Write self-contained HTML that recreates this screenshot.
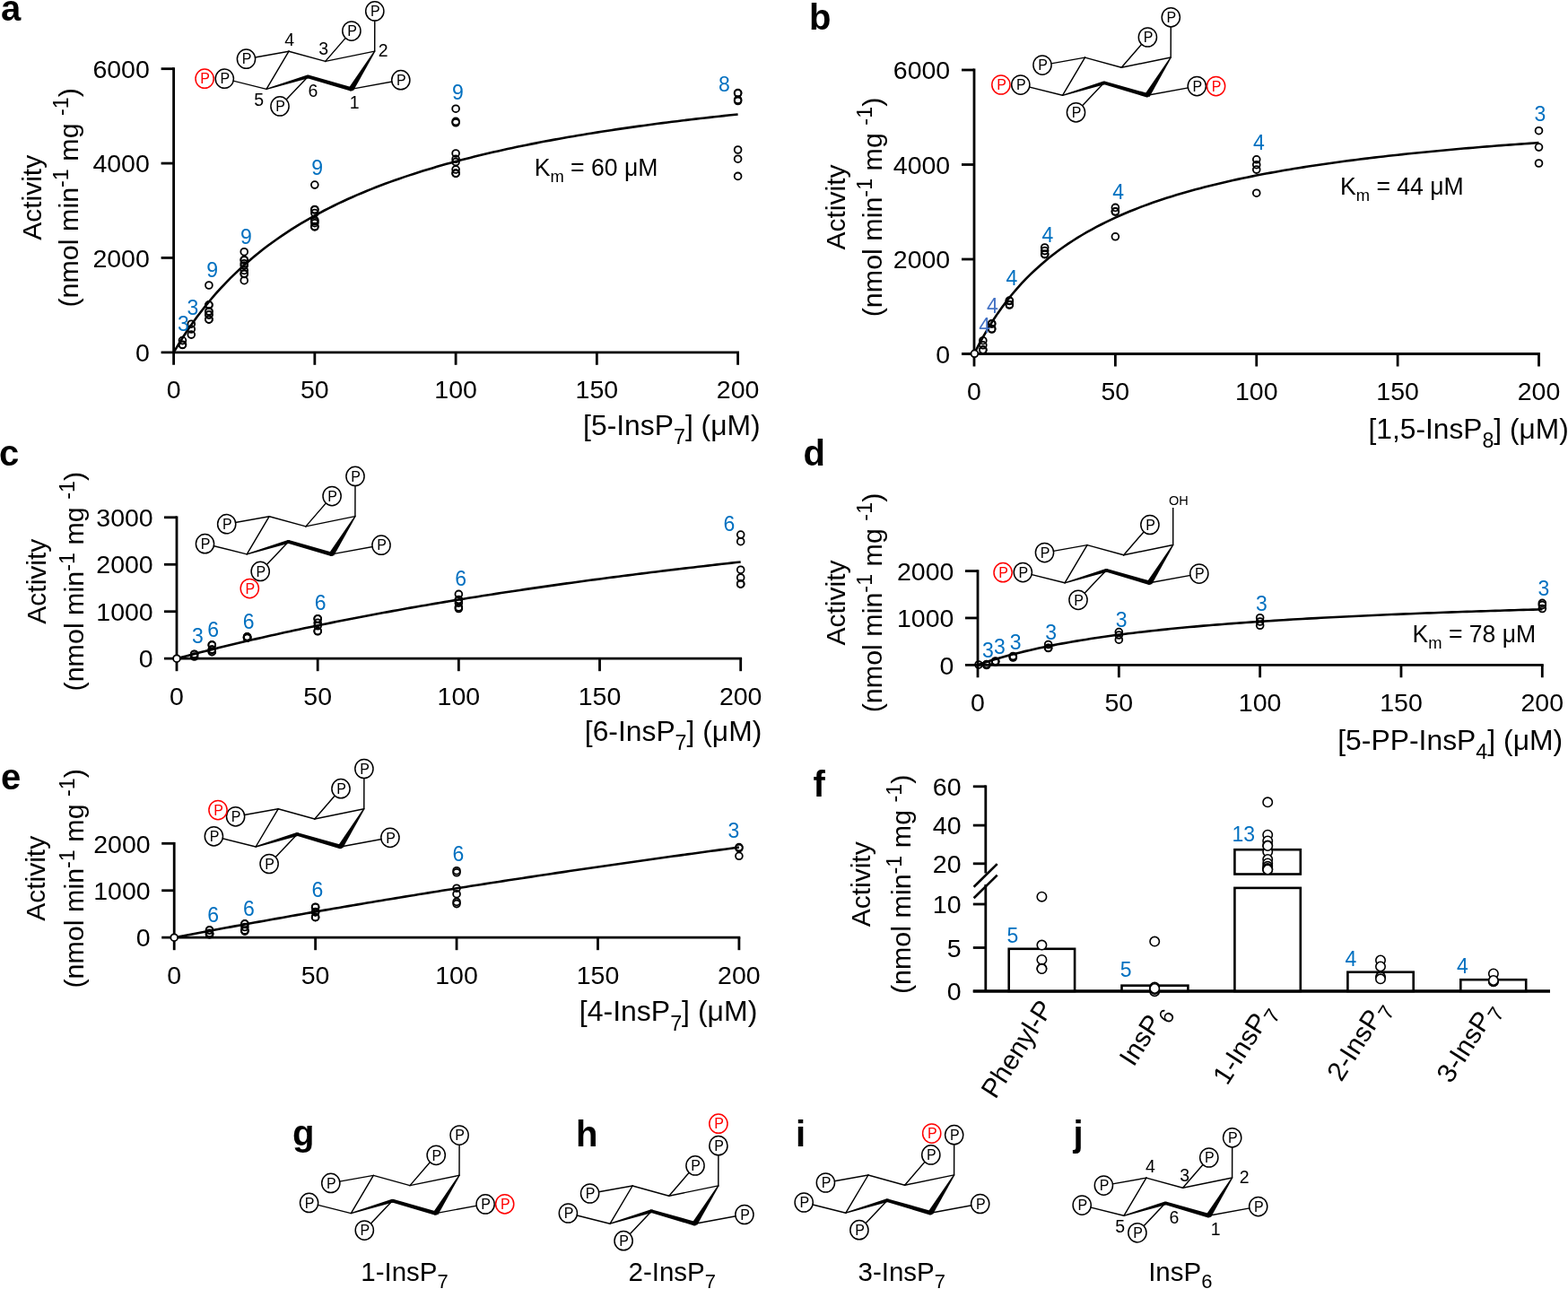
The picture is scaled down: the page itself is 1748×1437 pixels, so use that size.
<!DOCTYPE html>
<html><head><meta charset="utf-8"><style>html,body{margin:0;padding:0;background:#fff;}svg{display:block;}</style></head><body>
<svg width="1748" height="1437" viewBox="0 0 1748 1437">
<rect width="1748" height="1437" fill="#fff"/>
<g font-family="'Liberation Sans', Arial, sans-serif">
<line x1="193.6" y1="406.8" x2="193.6" y2="75.3" stroke="#000" stroke-width="2.8" stroke-linecap="butt"/>
<line x1="179.6" y1="392.8" x2="824" y2="392.8" stroke="#000" stroke-width="2.8" stroke-linecap="butt"/>
<line x1="179.6" y1="287.43" x2="193.6" y2="287.43" stroke="#000" stroke-width="2.8" stroke-linecap="butt"/>
<line x1="179.6" y1="182.07" x2="193.6" y2="182.07" stroke="#000" stroke-width="2.8" stroke-linecap="butt"/>
<line x1="179.6" y1="76.7" x2="193.6" y2="76.7" stroke="#000" stroke-width="2.8" stroke-linecap="butt"/>
<line x1="350.85" y1="392.8" x2="350.85" y2="406.8" stroke="#000" stroke-width="2.8" stroke-linecap="butt"/>
<line x1="508.1" y1="392.8" x2="508.1" y2="406.8" stroke="#000" stroke-width="2.8" stroke-linecap="butt"/>
<line x1="665.35" y1="392.8" x2="665.35" y2="406.8" stroke="#000" stroke-width="2.8" stroke-linecap="butt"/>
<line x1="822.6" y1="392.8" x2="822.6" y2="406.8" stroke="#000" stroke-width="2.8" stroke-linecap="butt"/>
<text x="166.8" y="403" font-size="28.5" text-anchor="end" fill="#000">0</text>
<text x="166.8" y="297.64" font-size="28.5" text-anchor="end" fill="#000">2000</text>
<text x="166.8" y="192.27" font-size="28.5" text-anchor="end" fill="#000">4000</text>
<text x="166.8" y="86.9" font-size="28.5" text-anchor="end" fill="#000">6000</text>
<text x="193.6" y="444.4" font-size="28.5" text-anchor="middle" fill="#000">0</text>
<text x="350.85" y="444.4" font-size="28.5" text-anchor="middle" fill="#000">50</text>
<text x="508.1" y="444.4" font-size="28.5" text-anchor="middle" fill="#000">100</text>
<text x="665.35" y="444.4" font-size="28.5" text-anchor="middle" fill="#000">150</text>
<text x="822.6" y="444.4" font-size="28.5" text-anchor="middle" fill="#000">200</text>
<text transform="translate(45.7,220.3) rotate(-90)" font-size="30" text-anchor="middle">Activity</text>
<text transform="translate(86.8,220.3) rotate(-90)" font-size="30" text-anchor="middle" textLength="244.6" lengthAdjust="spacingAndGlyphs">(nmol min<tspan font-size="23" dy="-10.5">-1</tspan><tspan dy="10.5"> mg </tspan><tspan font-size="23" dy="-10.5">-1</tspan><tspan dy="10.5">)</tspan></text>
<text x="847.7" y="484.6" font-size="31.5" text-anchor="end" textLength="197.6" lengthAdjust="spacingAndGlyphs">[5-InsP<tspan font-size="23" dy="10.5">7</tspan><tspan dy="-10.5">] (μM)</tspan></text>
<polyline points="193.6,392.8 198.84,384.07 204.08,375.76 209.32,367.84 214.57,360.29 219.81,353.08 225.05,346.19 230.29,339.59 235.53,333.27 240.77,327.22 246.02,321.41 251.26,315.83 256.5,310.46 261.74,305.31 266.98,300.34 272.23,295.56 277.47,290.95 282.71,286.51 287.95,282.21 293.19,278.07 298.43,274.07 303.68,270.2 308.92,266.45 314.16,262.83 319.4,259.32 324.64,255.91 329.88,252.62 335.12,249.42 340.37,246.32 345.61,243.3 350.85,240.38 356.09,237.54 361.33,234.77 366.57,232.09 371.82,229.47 377.06,226.93 382.3,224.46 387.54,222.05 392.78,219.7 398.02,217.41 403.27,215.18 408.51,213 413.75,210.88 418.99,208.81 424.23,206.79 429.48,204.82 434.72,202.89 439.96,201.01 445.2,199.17 450.44,197.38 455.68,195.62 460.92,193.9 466.17,192.22 471.41,190.58 476.65,188.97 481.89,187.4 487.13,185.85 492.38,184.34 497.62,182.87 502.86,181.42 508.1,180 513.34,178.61 518.58,177.24 523.83,175.91 529.07,174.6 534.31,173.31 539.55,172.05 544.79,170.81 550.03,169.6 555.27,168.4 560.52,167.23 565.76,166.08 571,164.96 576.24,163.85 581.48,162.76 586.73,161.69 591.97,160.64 597.21,159.6 602.45,158.59 607.69,157.59 612.93,156.61 618.17,155.64 623.42,154.69 628.66,153.76 633.9,152.84 639.14,151.94 644.38,151.05 649.62,150.17 654.87,149.31 660.11,148.46 665.35,147.62 670.59,146.8 675.83,145.99 681.08,145.19 686.32,144.41 691.56,143.63 696.8,142.87 702.04,142.12 707.28,141.38 712.52,140.65 717.77,139.93 723.01,139.22 728.25,138.52 733.49,137.83 738.73,137.15 743.98,136.48 749.22,135.82 754.46,135.17 759.7,134.53 764.94,133.89 770.18,133.27 775.43,132.65 780.67,132.04 785.91,131.44 791.15,130.84 796.39,130.26 801.63,129.68 806.88,129.11 812.12,128.55 817.36,127.99 822.6,127.44" fill="none" stroke="#000" stroke-width="2.6" stroke-linejoin="round"/>
<circle cx="203.43" cy="384.2" r="3.9" fill="none" stroke="#000" stroke-width="1.8"/>
<circle cx="203.43" cy="379.6" r="3.9" fill="none" stroke="#000" stroke-width="1.8"/>
<circle cx="203.43" cy="384.5" r="3.9" fill="none" stroke="#000" stroke-width="1.8"/>
<circle cx="213.26" cy="361.2" r="3.9" fill="none" stroke="#000" stroke-width="1.8"/>
<circle cx="213.26" cy="367" r="3.9" fill="none" stroke="#000" stroke-width="1.8"/>
<circle cx="213.26" cy="373.1" r="3.9" fill="none" stroke="#000" stroke-width="1.8"/>
<circle cx="232.91" cy="318" r="3.9" fill="none" stroke="#000" stroke-width="1.8"/>
<circle cx="232.91" cy="339.8" r="3.9" fill="none" stroke="#000" stroke-width="1.8"/>
<circle cx="232.91" cy="340.1" r="3.9" fill="none" stroke="#000" stroke-width="1.8"/>
<circle cx="232.91" cy="347.1" r="3.9" fill="none" stroke="#000" stroke-width="1.8"/>
<circle cx="232.91" cy="347.4" r="3.9" fill="none" stroke="#000" stroke-width="1.8"/>
<circle cx="232.91" cy="350.8" r="3.9" fill="none" stroke="#000" stroke-width="1.8"/>
<circle cx="232.91" cy="351.1" r="3.9" fill="none" stroke="#000" stroke-width="1.8"/>
<circle cx="232.91" cy="355.9" r="3.9" fill="none" stroke="#000" stroke-width="1.8"/>
<circle cx="232.91" cy="356.2" r="3.9" fill="none" stroke="#000" stroke-width="1.8"/>
<circle cx="272.23" cy="280.7" r="3.9" fill="none" stroke="#000" stroke-width="1.8"/>
<circle cx="272.23" cy="289.6" r="3.9" fill="none" stroke="#000" stroke-width="1.8"/>
<circle cx="272.23" cy="290" r="3.9" fill="none" stroke="#000" stroke-width="1.8"/>
<circle cx="272.23" cy="293.7" r="3.9" fill="none" stroke="#000" stroke-width="1.8"/>
<circle cx="272.23" cy="296.1" r="3.9" fill="none" stroke="#000" stroke-width="1.8"/>
<circle cx="272.23" cy="301.4" r="3.9" fill="none" stroke="#000" stroke-width="1.8"/>
<circle cx="272.23" cy="305" r="3.9" fill="none" stroke="#000" stroke-width="1.8"/>
<circle cx="272.23" cy="305.5" r="3.9" fill="none" stroke="#000" stroke-width="1.8"/>
<circle cx="272.23" cy="312.7" r="3.9" fill="none" stroke="#000" stroke-width="1.8"/>
<circle cx="350.85" cy="206.1" r="3.9" fill="none" stroke="#000" stroke-width="1.8"/>
<circle cx="350.85" cy="233.5" r="3.9" fill="none" stroke="#000" stroke-width="1.8"/>
<circle cx="350.85" cy="234" r="3.9" fill="none" stroke="#000" stroke-width="1.8"/>
<circle cx="350.85" cy="237.5" r="3.9" fill="none" stroke="#000" stroke-width="1.8"/>
<circle cx="350.85" cy="245.3" r="3.9" fill="none" stroke="#000" stroke-width="1.8"/>
<circle cx="350.85" cy="246.8" r="3.9" fill="none" stroke="#000" stroke-width="1.8"/>
<circle cx="350.85" cy="248.7" r="3.9" fill="none" stroke="#000" stroke-width="1.8"/>
<circle cx="350.85" cy="252.6" r="3.9" fill="none" stroke="#000" stroke-width="1.8"/>
<circle cx="350.85" cy="252.8" r="3.9" fill="none" stroke="#000" stroke-width="1.8"/>
<circle cx="508.1" cy="121.2" r="3.9" fill="none" stroke="#000" stroke-width="1.8"/>
<circle cx="508.1" cy="135.4" r="3.9" fill="none" stroke="#000" stroke-width="1.8"/>
<circle cx="508.1" cy="136.8" r="3.9" fill="none" stroke="#000" stroke-width="1.8"/>
<circle cx="508.1" cy="171" r="3.9" fill="none" stroke="#000" stroke-width="1.8"/>
<circle cx="508.1" cy="177.3" r="3.9" fill="none" stroke="#000" stroke-width="1.8"/>
<circle cx="508.1" cy="180.5" r="3.9" fill="none" stroke="#000" stroke-width="1.8"/>
<circle cx="508.1" cy="189" r="3.9" fill="none" stroke="#000" stroke-width="1.8"/>
<circle cx="508.1" cy="193.1" r="3.9" fill="none" stroke="#000" stroke-width="1.8"/>
<circle cx="508.1" cy="193.4" r="3.9" fill="none" stroke="#000" stroke-width="1.8"/>
<circle cx="822.6" cy="103.6" r="3.9" fill="none" stroke="#000" stroke-width="1.8"/>
<circle cx="822.6" cy="104" r="3.9" fill="none" stroke="#000" stroke-width="1.8"/>
<circle cx="822.6" cy="111.2" r="3.9" fill="none" stroke="#000" stroke-width="1.8"/>
<circle cx="822.6" cy="112.5" r="3.9" fill="none" stroke="#000" stroke-width="1.8"/>
<circle cx="822.6" cy="167" r="3.9" fill="none" stroke="#000" stroke-width="1.8"/>
<circle cx="822.6" cy="177.2" r="3.9" fill="none" stroke="#000" stroke-width="1.8"/>
<circle cx="822.6" cy="196.4" r="3.9" fill="none" stroke="#000" stroke-width="1.8"/>
<text x="204.5" y="368.73" font-size="23" text-anchor="middle" fill="#0070C0">3</text>
<text x="215" y="350.73" font-size="23" text-anchor="middle" fill="#0070C0">3</text>
<text x="236.6" y="309.03" font-size="23" text-anchor="middle" fill="#0070C0">9</text>
<text x="274.4" y="271.73" font-size="23" text-anchor="middle" fill="#0070C0">9</text>
<text x="353.7" y="194.53" font-size="23" text-anchor="middle" fill="#0070C0">9</text>
<text x="510.3" y="110.83" font-size="23" text-anchor="middle" fill="#0070C0">9</text>
<text x="807.5" y="102.13" font-size="23" text-anchor="middle" fill="#0070C0">8</text>
<text x="595.7" y="195.5" font-size="27.5" textLength="137.7" lengthAdjust="spacingAndGlyphs">K<tspan font-size="19" dy="7">m</tspan><tspan dy="-7"> = 60 μM</tspan></text>
<text x="1" y="22.6" font-size="40" text-anchor="start" fill="#000" font-weight="bold">a</text>
<line x1="297" y1="99.4" x2="322" y2="57.2" stroke="#000" stroke-width="1.45" stroke-linecap="round"/>
<line x1="322" y1="57.2" x2="362.7" y2="68.4" stroke="#000" stroke-width="1.45" stroke-linecap="round"/>
<line x1="362.7" y1="68.4" x2="417.7" y2="57.1" stroke="#000" stroke-width="1.45" stroke-linecap="round"/>
<line x1="322" y1="57.2" x2="274.5" y2="65.7" stroke="#000" stroke-width="1.45" stroke-linecap="round"/>
<line x1="362.7" y1="68.4" x2="391.9" y2="34.6" stroke="#000" stroke-width="1.45" stroke-linecap="round"/>
<line x1="391.5" y1="99.4" x2="446.8" y2="89.2" stroke="#000" stroke-width="1.45" stroke-linecap="round"/>
<line x1="343.3" y1="85.4" x2="312" y2="118.4" stroke="#000" stroke-width="1.45" stroke-linecap="round"/>
<line x1="297" y1="99.4" x2="250.3" y2="87.7" stroke="#000" stroke-width="1.45" stroke-linecap="round"/>
<line x1="417.7" y1="57.1" x2="417.8" y2="12.4" stroke="#000" stroke-width="1.45" stroke-linecap="round"/>
<polygon points="417.1,56.73 388.95,97.82 394.05,100.98 418.3,57.47" fill="#000"/>
<polygon points="392.14,97.19 343.83,83.58 342.77,87.22 390.86,101.61" fill="#000"/>
<polygon points="342.72,83.49 296.8,98.73 297.2,100.07 343.88,87.31" fill="#000"/>
<circle cx="343.3" cy="85.4" r="1.9" fill="#000"/>
<circle cx="391.5" cy="99.4" r="2.2" fill="#000"/>
<ellipse cx="274.5" cy="65.7" rx="10.1" ry="10.6" fill="#fff" stroke="#000" stroke-width="1.5"/>
<text x="275.1" y="71.4" font-size="16" text-anchor="middle" fill="#000">P</text>
<ellipse cx="250.3" cy="87.7" rx="10.1" ry="10.6" fill="#fff" stroke="#000" stroke-width="1.5"/>
<text x="250.9" y="93.4" font-size="16" text-anchor="middle" fill="#000">P</text>
<ellipse cx="312" cy="118.4" rx="10.1" ry="10.6" fill="#fff" stroke="#000" stroke-width="1.5"/>
<text x="312.6" y="124.1" font-size="16" text-anchor="middle" fill="#000">P</text>
<ellipse cx="391.9" cy="34.6" rx="10.1" ry="10.6" fill="#fff" stroke="#000" stroke-width="1.5"/>
<text x="392.5" y="40.3" font-size="16" text-anchor="middle" fill="#000">P</text>
<ellipse cx="446.8" cy="89.2" rx="10.1" ry="10.6" fill="#fff" stroke="#000" stroke-width="1.5"/>
<text x="447.4" y="94.9" font-size="16" text-anchor="middle" fill="#000">P</text>
<ellipse cx="417.8" cy="12.4" rx="10.1" ry="10.6" fill="#fff" stroke="#000" stroke-width="1.5"/>
<text x="418.4" y="18.1" font-size="16" text-anchor="middle" fill="#000">P</text>
<ellipse cx="228.1" cy="87.7" rx="10.1" ry="10.6" fill="#fff" stroke="#FF0000" stroke-width="1.5"/>
<text x="228.7" y="93.4" font-size="16" text-anchor="middle" fill="#FF0000">P</text>
<text x="322.6" y="50.98" font-size="19.5" text-anchor="middle" fill="#000">4</text>
<text x="360.7" y="61.28" font-size="19.5" text-anchor="middle" fill="#000">3</text>
<text x="427.2" y="63.48" font-size="19.5" text-anchor="middle" fill="#000">2</text>
<text x="395.2" y="121.48" font-size="19.5" text-anchor="middle" fill="#000">1</text>
<text x="349" y="107.98" font-size="19.5" text-anchor="middle" fill="#000">6</text>
<text x="288.8" y="117.78" font-size="19.5" text-anchor="middle" fill="#000">5</text>
<line x1="1086" y1="408.5" x2="1086" y2="76.6" stroke="#000" stroke-width="2.8" stroke-linecap="butt"/>
<line x1="1072" y1="394.5" x2="1716.9" y2="394.5" stroke="#000" stroke-width="2.8" stroke-linecap="butt"/>
<line x1="1072" y1="289" x2="1086" y2="289" stroke="#000" stroke-width="2.8" stroke-linecap="butt"/>
<line x1="1072" y1="183.5" x2="1086" y2="183.5" stroke="#000" stroke-width="2.8" stroke-linecap="butt"/>
<line x1="1072" y1="78" x2="1086" y2="78" stroke="#000" stroke-width="2.8" stroke-linecap="butt"/>
<line x1="1243.38" y1="394.5" x2="1243.38" y2="408.5" stroke="#000" stroke-width="2.8" stroke-linecap="butt"/>
<line x1="1400.75" y1="394.5" x2="1400.75" y2="408.5" stroke="#000" stroke-width="2.8" stroke-linecap="butt"/>
<line x1="1558.12" y1="394.5" x2="1558.12" y2="408.5" stroke="#000" stroke-width="2.8" stroke-linecap="butt"/>
<line x1="1715.5" y1="394.5" x2="1715.5" y2="408.5" stroke="#000" stroke-width="2.8" stroke-linecap="butt"/>
<text x="1059.2" y="404.7" font-size="28.5" text-anchor="end" fill="#000">0</text>
<text x="1059.2" y="299.2" font-size="28.5" text-anchor="end" fill="#000">2000</text>
<text x="1059.2" y="193.7" font-size="28.5" text-anchor="end" fill="#000">4000</text>
<text x="1059.2" y="88.2" font-size="28.5" text-anchor="end" fill="#000">6000</text>
<text x="1086" y="446.1" font-size="28.5" text-anchor="middle" fill="#000">0</text>
<text x="1243.38" y="446.1" font-size="28.5" text-anchor="middle" fill="#000">50</text>
<text x="1400.75" y="446.1" font-size="28.5" text-anchor="middle" fill="#000">100</text>
<text x="1558.12" y="446.1" font-size="28.5" text-anchor="middle" fill="#000">150</text>
<text x="1715.5" y="446.1" font-size="28.5" text-anchor="middle" fill="#000">200</text>
<text transform="translate(942.1,231) rotate(-90)" font-size="30" text-anchor="middle">Activity</text>
<text transform="translate(982.8,231) rotate(-90)" font-size="30" text-anchor="middle" textLength="244.6" lengthAdjust="spacingAndGlyphs">(nmol min<tspan font-size="23" dy="-10.5">-1</tspan><tspan dy="10.5"> mg </tspan><tspan font-size="23" dy="-10.5">-1</tspan><tspan dy="10.5">)</tspan></text>
<text x="1748.7" y="488.7" font-size="31.5" text-anchor="end" textLength="223.2" lengthAdjust="spacingAndGlyphs">[1,5-InsP<tspan font-size="23" dy="10.5">8</tspan><tspan dy="-10.5">] (μM)</tspan></text>
<polyline points="1086,394.5 1091.25,384.18 1096.49,374.58 1101.74,365.62 1106.98,357.24 1112.23,349.38 1117.47,342 1122.72,335.05 1127.97,328.51 1133.21,322.32 1138.46,316.47 1143.7,310.93 1148.95,305.68 1154.2,300.69 1159.44,295.94 1164.69,291.41 1169.93,287.1 1175.18,282.99 1180.42,279.06 1185.67,275.29 1190.92,271.69 1196.16,268.24 1201.41,264.93 1206.65,261.76 1211.9,258.7 1217.15,255.77 1222.39,252.95 1227.64,250.23 1232.88,247.61 1238.13,245.08 1243.38,242.64 1248.62,240.29 1253.87,238.01 1259.11,235.82 1264.36,233.69 1269.6,231.63 1274.85,229.64 1280.1,227.71 1285.34,225.84 1290.59,224.03 1295.83,222.27 1301.08,220.56 1306.33,218.91 1311.57,217.29 1316.82,215.73 1322.06,214.21 1327.31,212.73 1332.55,211.29 1337.8,209.89 1343.05,208.52 1348.29,207.19 1353.54,205.9 1358.78,204.64 1364.03,203.41 1369.28,202.21 1374.52,201.04 1379.77,199.89 1385.01,198.78 1390.26,197.69 1395.5,196.63 1400.75,195.59 1406,194.57 1411.24,193.58 1416.49,192.61 1421.73,191.66 1426.98,190.73 1432.22,189.82 1437.47,188.93 1442.72,188.06 1447.96,187.21 1453.21,186.37 1458.45,185.56 1463.7,184.75 1468.95,183.97 1474.19,183.2 1479.44,182.44 1484.68,181.7 1489.93,180.98 1495.17,180.27 1500.42,179.57 1505.67,178.88 1510.91,178.21 1516.16,177.55 1521.4,176.9 1526.65,176.27 1531.9,175.64 1537.14,175.03 1542.39,174.42 1547.63,173.83 1552.88,173.25 1558.12,172.67 1563.37,172.11 1568.62,171.56 1573.86,171.01 1579.11,170.48 1584.35,169.95 1589.6,169.43 1594.85,168.92 1600.09,168.42 1605.34,167.93 1610.58,167.44 1615.83,166.97 1621.08,166.49 1626.32,166.03 1631.57,165.57 1636.81,165.13 1642.06,164.68 1647.3,164.25 1652.55,163.82 1657.8,163.39 1663.04,162.98 1668.29,162.57 1673.53,162.16 1678.78,161.76 1684.03,161.37 1689.27,160.98 1694.52,160.6 1699.76,160.22 1705.01,159.85 1710.25,159.48 1715.5,159.12" fill="none" stroke="#000" stroke-width="2.6" stroke-linejoin="round"/>
<circle cx="1095.84" cy="379.7" r="3.9" fill="none" stroke="#000" stroke-width="1.8"/>
<circle cx="1095.84" cy="384.8" r="3.9" fill="none" stroke="#000" stroke-width="1.8"/>
<circle cx="1095.84" cy="389.9" r="3.9" fill="none" stroke="#000" stroke-width="1.8"/>
<circle cx="1095.84" cy="390.3" r="3.9" fill="none" stroke="#000" stroke-width="1.8"/>
<circle cx="1105.67" cy="360.7" r="3.9" fill="none" stroke="#000" stroke-width="1.8"/>
<circle cx="1105.67" cy="361" r="3.9" fill="none" stroke="#000" stroke-width="1.8"/>
<circle cx="1105.67" cy="366.5" r="3.9" fill="none" stroke="#000" stroke-width="1.8"/>
<circle cx="1105.67" cy="367" r="3.9" fill="none" stroke="#000" stroke-width="1.8"/>
<circle cx="1125.34" cy="335.1" r="3.9" fill="none" stroke="#000" stroke-width="1.8"/>
<circle cx="1125.34" cy="335.5" r="3.9" fill="none" stroke="#000" stroke-width="1.8"/>
<circle cx="1125.34" cy="339.5" r="3.9" fill="none" stroke="#000" stroke-width="1.8"/>
<circle cx="1125.34" cy="340" r="3.9" fill="none" stroke="#000" stroke-width="1.8"/>
<circle cx="1164.69" cy="276" r="3.9" fill="none" stroke="#000" stroke-width="1.8"/>
<circle cx="1164.69" cy="279.6" r="3.9" fill="none" stroke="#000" stroke-width="1.8"/>
<circle cx="1164.69" cy="283.3" r="3.9" fill="none" stroke="#000" stroke-width="1.8"/>
<circle cx="1164.69" cy="283.6" r="3.9" fill="none" stroke="#000" stroke-width="1.8"/>
<circle cx="1243.38" cy="231.4" r="3.9" fill="none" stroke="#000" stroke-width="1.8"/>
<circle cx="1243.38" cy="235.8" r="3.9" fill="none" stroke="#000" stroke-width="1.8"/>
<circle cx="1243.38" cy="236" r="3.9" fill="none" stroke="#000" stroke-width="1.8"/>
<circle cx="1243.38" cy="263.8" r="3.9" fill="none" stroke="#000" stroke-width="1.8"/>
<circle cx="1400.75" cy="177.8" r="3.9" fill="none" stroke="#000" stroke-width="1.8"/>
<circle cx="1400.75" cy="183.7" r="3.9" fill="none" stroke="#000" stroke-width="1.8"/>
<circle cx="1400.75" cy="189.1" r="3.9" fill="none" stroke="#000" stroke-width="1.8"/>
<circle cx="1400.75" cy="215.2" r="3.9" fill="none" stroke="#000" stroke-width="1.8"/>
<circle cx="1715.5" cy="145.7" r="3.9" fill="none" stroke="#000" stroke-width="1.8"/>
<circle cx="1715.5" cy="164.1" r="3.9" fill="none" stroke="#000" stroke-width="1.8"/>
<circle cx="1715.5" cy="182" r="3.9" fill="none" stroke="#000" stroke-width="1.8"/>
<circle cx="1086.4" cy="394.3" r="3.9" fill="#fff" stroke="#000" stroke-width="1.8"/>
<text x="1097.6" y="371.13" font-size="23" text-anchor="middle" fill="#4472C4">4</text>
<text x="1106.4" y="349.23" font-size="23" text-anchor="middle" fill="#4472C4">4</text>
<text x="1127.9" y="317.83" font-size="23" text-anchor="middle" fill="#0070C0">4</text>
<text x="1167.8" y="269.63" font-size="23" text-anchor="middle" fill="#0070C0">4</text>
<text x="1246.7" y="222.13" font-size="23" text-anchor="middle" fill="#0070C0">4</text>
<text x="1403.5" y="166.93" font-size="23" text-anchor="middle" fill="#0070C0">4</text>
<text x="1717" y="135.43" font-size="23" text-anchor="middle" fill="#0070C0">3</text>
<text x="1494" y="216.7" font-size="27.5" textLength="137.7" lengthAdjust="spacingAndGlyphs">K<tspan font-size="19" dy="7">m</tspan><tspan dy="-7"> = 44 μM</tspan></text>
<text x="902" y="33" font-size="40" text-anchor="start" fill="#000" font-weight="bold">b</text>
<line x1="1184.5" y1="106.3" x2="1209.5" y2="64.1" stroke="#000" stroke-width="1.45" stroke-linecap="round"/>
<line x1="1209.5" y1="64.1" x2="1250.2" y2="75.3" stroke="#000" stroke-width="1.45" stroke-linecap="round"/>
<line x1="1250.2" y1="75.3" x2="1305.2" y2="64" stroke="#000" stroke-width="1.45" stroke-linecap="round"/>
<line x1="1209.5" y1="64.1" x2="1162" y2="72.6" stroke="#000" stroke-width="1.45" stroke-linecap="round"/>
<line x1="1250.2" y1="75.3" x2="1279.4" y2="41.5" stroke="#000" stroke-width="1.45" stroke-linecap="round"/>
<line x1="1279" y1="106.3" x2="1334.3" y2="96.1" stroke="#000" stroke-width="1.45" stroke-linecap="round"/>
<line x1="1230.8" y1="92.3" x2="1199.5" y2="125.3" stroke="#000" stroke-width="1.45" stroke-linecap="round"/>
<line x1="1184.5" y1="106.3" x2="1137.8" y2="94.6" stroke="#000" stroke-width="1.45" stroke-linecap="round"/>
<line x1="1305.2" y1="64" x2="1305.3" y2="19.3" stroke="#000" stroke-width="1.45" stroke-linecap="round"/>
<polygon points="1304.6,63.63 1276.45,104.72 1281.55,107.88 1305.8,64.37" fill="#000"/>
<polygon points="1279.64,104.09 1231.33,90.48 1230.27,94.12 1278.36,108.51" fill="#000"/>
<polygon points="1230.22,90.39 1184.3,105.63 1184.7,106.97 1231.38,94.21" fill="#000"/>
<circle cx="1230.8" cy="92.3" r="1.9" fill="#000"/>
<circle cx="1279" cy="106.3" r="2.2" fill="#000"/>
<ellipse cx="1162" cy="72.6" rx="10.1" ry="10.6" fill="#fff" stroke="#000" stroke-width="1.5"/>
<text x="1162.6" y="78.3" font-size="16" text-anchor="middle" fill="#000">P</text>
<ellipse cx="1137.8" cy="94.6" rx="10.1" ry="10.6" fill="#fff" stroke="#000" stroke-width="1.5"/>
<text x="1138.4" y="100.3" font-size="16" text-anchor="middle" fill="#000">P</text>
<ellipse cx="1199.5" cy="125.3" rx="10.1" ry="10.6" fill="#fff" stroke="#000" stroke-width="1.5"/>
<text x="1200.1" y="131" font-size="16" text-anchor="middle" fill="#000">P</text>
<ellipse cx="1279.4" cy="41.5" rx="10.1" ry="10.6" fill="#fff" stroke="#000" stroke-width="1.5"/>
<text x="1280" y="47.2" font-size="16" text-anchor="middle" fill="#000">P</text>
<ellipse cx="1334.3" cy="96.1" rx="10.1" ry="10.6" fill="#fff" stroke="#000" stroke-width="1.5"/>
<text x="1334.9" y="101.8" font-size="16" text-anchor="middle" fill="#000">P</text>
<ellipse cx="1305.3" cy="19.3" rx="10.1" ry="10.6" fill="#fff" stroke="#000" stroke-width="1.5"/>
<text x="1305.9" y="25" font-size="16" text-anchor="middle" fill="#000">P</text>
<ellipse cx="1115.9" cy="94.5" rx="10.1" ry="10.6" fill="#fff" stroke="#FF0000" stroke-width="1.5"/>
<text x="1116.5" y="100.2" font-size="16" text-anchor="middle" fill="#FF0000">P</text>
<ellipse cx="1355.6" cy="96.1" rx="10.1" ry="10.6" fill="#fff" stroke="#FF0000" stroke-width="1.5"/>
<text x="1356.2" y="101.8" font-size="16" text-anchor="middle" fill="#FF0000">P</text>
<line x1="197" y1="748.2" x2="197" y2="575.4" stroke="#000" stroke-width="2.8" stroke-linecap="butt"/>
<line x1="183" y1="734.2" x2="827.1" y2="734.2" stroke="#000" stroke-width="2.8" stroke-linecap="butt"/>
<line x1="183" y1="681.73" x2="197" y2="681.73" stroke="#000" stroke-width="2.8" stroke-linecap="butt"/>
<line x1="183" y1="629.27" x2="197" y2="629.27" stroke="#000" stroke-width="2.8" stroke-linecap="butt"/>
<line x1="183" y1="576.8" x2="197" y2="576.8" stroke="#000" stroke-width="2.8" stroke-linecap="butt"/>
<line x1="354.18" y1="734.2" x2="354.18" y2="748.2" stroke="#000" stroke-width="2.8" stroke-linecap="butt"/>
<line x1="511.35" y1="734.2" x2="511.35" y2="748.2" stroke="#000" stroke-width="2.8" stroke-linecap="butt"/>
<line x1="668.53" y1="734.2" x2="668.53" y2="748.2" stroke="#000" stroke-width="2.8" stroke-linecap="butt"/>
<line x1="825.7" y1="734.2" x2="825.7" y2="748.2" stroke="#000" stroke-width="2.8" stroke-linecap="butt"/>
<text x="170.7" y="744.4" font-size="28.5" text-anchor="end" fill="#000">0</text>
<text x="170.7" y="691.94" font-size="28.5" text-anchor="end" fill="#000">1000</text>
<text x="170.7" y="639.47" font-size="28.5" text-anchor="end" fill="#000">2000</text>
<text x="170.7" y="587" font-size="28.5" text-anchor="end" fill="#000">3000</text>
<text x="197" y="785.8" font-size="28.5" text-anchor="middle" fill="#000">0</text>
<text x="354.18" y="785.8" font-size="28.5" text-anchor="middle" fill="#000">50</text>
<text x="511.35" y="785.8" font-size="28.5" text-anchor="middle" fill="#000">100</text>
<text x="668.53" y="785.8" font-size="28.5" text-anchor="middle" fill="#000">150</text>
<text x="825.7" y="785.8" font-size="28.5" text-anchor="middle" fill="#000">200</text>
<text transform="translate(51.3,648.2) rotate(-90)" font-size="30" text-anchor="middle">Activity</text>
<text transform="translate(93,648.2) rotate(-90)" font-size="30" text-anchor="middle" textLength="244.6" lengthAdjust="spacingAndGlyphs">(nmol min<tspan font-size="23" dy="-10.5">-1</tspan><tspan dy="10.5"> mg </tspan><tspan font-size="23" dy="-10.5">-1</tspan><tspan dy="10.5">)</tspan></text>
<text x="849.3" y="825.9" font-size="31.5" text-anchor="end" textLength="197.5" lengthAdjust="spacingAndGlyphs">[6-InsP<tspan font-size="23" dy="10.5">7</tspan><tspan dy="-10.5">] (μM)</tspan></text>
<polyline points="197,734.2 202.24,732.8 207.48,731.42 212.72,730.05 217.96,728.7 223.2,727.35 228.44,726.02 233.67,724.7 238.91,723.39 244.15,722.09 249.39,720.81 254.63,719.54 259.87,718.27 265.11,717.02 270.35,715.78 275.59,714.55 280.83,713.33 286.07,712.13 291.31,710.93 296.54,709.74 301.78,708.56 307.02,707.4 312.26,706.24 317.5,705.09 322.74,703.95 327.98,702.83 333.22,701.71 338.46,700.6 343.7,699.5 348.94,698.41 354.18,697.32 359.41,696.25 364.65,695.19 369.89,694.13 375.13,693.08 380.37,692.04 385.61,691.01 390.85,689.99 396.09,688.98 401.33,687.97 406.57,686.97 411.81,685.98 417.05,685 422.28,684.02 427.52,683.06 432.76,682.1 438,681.14 443.24,680.2 448.48,679.26 453.72,678.33 458.96,677.4 464.2,676.49 469.44,675.58 474.68,674.67 479.92,673.78 485.15,672.89 490.39,672 495.63,671.13 500.87,670.26 506.11,669.39 511.35,668.54 516.59,667.68 521.83,666.84 527.07,666 532.31,665.17 537.55,664.34 542.79,663.52 548.02,662.7 553.26,661.9 558.5,661.09 563.74,660.29 568.98,659.5 574.22,658.71 579.46,657.93 584.7,657.16 589.94,656.39 595.18,655.62 600.42,654.86 605.65,654.11 610.89,653.36 616.13,652.61 621.37,651.87 626.61,651.14 631.85,650.41 637.09,649.68 642.33,648.96 647.57,648.25 652.81,647.54 658.05,646.83 663.29,646.13 668.53,645.44 673.76,644.75 679,644.06 684.24,643.38 689.48,642.7 694.72,642.02 699.96,641.35 705.2,640.69 710.44,640.03 715.68,639.37 720.92,638.72 726.16,638.07 731.4,637.43 736.63,636.79 741.87,636.15 747.11,635.52 752.35,634.89 757.59,634.27 762.83,633.65 768.07,633.03 773.31,632.42 778.55,631.81 783.79,631.2 789.03,630.6 794.27,630 799.5,629.41 804.74,628.82 809.98,628.23 815.22,627.65 820.46,627.07 825.7,626.49" fill="none" stroke="#000" stroke-width="2.6" stroke-linejoin="round"/>
<circle cx="216.65" cy="729.2" r="3.9" fill="none" stroke="#000" stroke-width="1.8"/>
<circle cx="216.65" cy="729.5" r="3.9" fill="none" stroke="#000" stroke-width="1.8"/>
<circle cx="216.65" cy="732" r="3.9" fill="none" stroke="#000" stroke-width="1.8"/>
<circle cx="236.29" cy="718.9" r="3.9" fill="none" stroke="#000" stroke-width="1.8"/>
<circle cx="236.29" cy="719.2" r="3.9" fill="none" stroke="#000" stroke-width="1.8"/>
<circle cx="236.29" cy="724.1" r="3.9" fill="none" stroke="#000" stroke-width="1.8"/>
<circle cx="236.29" cy="724.4" r="3.9" fill="none" stroke="#000" stroke-width="1.8"/>
<circle cx="236.29" cy="726.4" r="3.9" fill="none" stroke="#000" stroke-width="1.8"/>
<circle cx="236.29" cy="726.7" r="3.9" fill="none" stroke="#000" stroke-width="1.8"/>
<circle cx="275.59" cy="709.8" r="3.9" fill="none" stroke="#000" stroke-width="1.8"/>
<circle cx="275.59" cy="710.5" r="3.9" fill="none" stroke="#000" stroke-width="1.8"/>
<circle cx="275.59" cy="711" r="3.9" fill="none" stroke="#000" stroke-width="1.8"/>
<circle cx="275.59" cy="710" r="3.9" fill="none" stroke="#000" stroke-width="1.8"/>
<circle cx="275.59" cy="710.8" r="3.9" fill="none" stroke="#000" stroke-width="1.8"/>
<circle cx="275.59" cy="711.2" r="3.9" fill="none" stroke="#000" stroke-width="1.8"/>
<circle cx="354.18" cy="689.7" r="3.9" fill="none" stroke="#000" stroke-width="1.8"/>
<circle cx="354.18" cy="690" r="3.9" fill="none" stroke="#000" stroke-width="1.8"/>
<circle cx="354.18" cy="694.3" r="3.9" fill="none" stroke="#000" stroke-width="1.8"/>
<circle cx="354.18" cy="697.8" r="3.9" fill="none" stroke="#000" stroke-width="1.8"/>
<circle cx="354.18" cy="703.5" r="3.9" fill="none" stroke="#000" stroke-width="1.8"/>
<circle cx="354.18" cy="703.8" r="3.9" fill="none" stroke="#000" stroke-width="1.8"/>
<circle cx="511.35" cy="662.4" r="3.9" fill="none" stroke="#000" stroke-width="1.8"/>
<circle cx="511.35" cy="668.5" r="3.9" fill="none" stroke="#000" stroke-width="1.8"/>
<circle cx="511.35" cy="669" r="3.9" fill="none" stroke="#000" stroke-width="1.8"/>
<circle cx="511.35" cy="672.2" r="3.9" fill="none" stroke="#000" stroke-width="1.8"/>
<circle cx="511.35" cy="677" r="3.9" fill="none" stroke="#000" stroke-width="1.8"/>
<circle cx="511.35" cy="678.5" r="3.9" fill="none" stroke="#000" stroke-width="1.8"/>
<circle cx="825.7" cy="596.1" r="3.9" fill="none" stroke="#000" stroke-width="1.8"/>
<circle cx="825.7" cy="603.7" r="3.9" fill="none" stroke="#000" stroke-width="1.8"/>
<circle cx="825.7" cy="635.2" r="3.9" fill="none" stroke="#000" stroke-width="1.8"/>
<circle cx="825.7" cy="643.9" r="3.9" fill="none" stroke="#000" stroke-width="1.8"/>
<circle cx="825.7" cy="650.9" r="3.9" fill="none" stroke="#000" stroke-width="1.8"/>
<circle cx="825.7" cy="651.2" r="3.9" fill="none" stroke="#000" stroke-width="1.8"/>
<circle cx="197" cy="734.2" r="3.9" fill="#fff" stroke="#000" stroke-width="1.8"/>
<text x="220.5" y="717.43" font-size="23" text-anchor="middle" fill="#0070C0">3</text>
<text x="237.6" y="710.03" font-size="23" text-anchor="middle" fill="#0070C0">6</text>
<text x="277.1" y="701.43" font-size="23" text-anchor="middle" fill="#0070C0">6</text>
<text x="357.2" y="680.23" font-size="23" text-anchor="middle" fill="#0070C0">6</text>
<text x="513.7" y="653.23" font-size="23" text-anchor="middle" fill="#0070C0">6</text>
<text x="813" y="592.33" font-size="23" text-anchor="middle" fill="#0070C0">6</text>
<text x="-1" y="518.5" font-size="40" text-anchor="start" fill="#000" font-weight="bold">c</text>
<line x1="275.2" y1="617.9" x2="300.2" y2="575.7" stroke="#000" stroke-width="1.45" stroke-linecap="round"/>
<line x1="300.2" y1="575.7" x2="340.9" y2="586.9" stroke="#000" stroke-width="1.45" stroke-linecap="round"/>
<line x1="340.9" y1="586.9" x2="395.9" y2="575.6" stroke="#000" stroke-width="1.45" stroke-linecap="round"/>
<line x1="300.2" y1="575.7" x2="252.7" y2="584.2" stroke="#000" stroke-width="1.45" stroke-linecap="round"/>
<line x1="340.9" y1="586.9" x2="370.1" y2="553.1" stroke="#000" stroke-width="1.45" stroke-linecap="round"/>
<line x1="369.7" y1="617.9" x2="425" y2="607.7" stroke="#000" stroke-width="1.45" stroke-linecap="round"/>
<line x1="321.5" y1="603.9" x2="290.2" y2="636.9" stroke="#000" stroke-width="1.45" stroke-linecap="round"/>
<line x1="275.2" y1="617.9" x2="228.5" y2="606.2" stroke="#000" stroke-width="1.45" stroke-linecap="round"/>
<line x1="395.9" y1="575.6" x2="396" y2="530.9" stroke="#000" stroke-width="1.45" stroke-linecap="round"/>
<polygon points="395.3,575.23 367.15,616.32 372.25,619.48 396.5,575.97" fill="#000"/>
<polygon points="370.34,615.69 322.03,602.08 320.97,605.72 369.06,620.11" fill="#000"/>
<polygon points="320.92,601.99 275,617.23 275.4,618.57 322.08,605.81" fill="#000"/>
<circle cx="321.5" cy="603.9" r="1.9" fill="#000"/>
<circle cx="369.7" cy="617.9" r="2.2" fill="#000"/>
<ellipse cx="252.7" cy="584.2" rx="10.1" ry="10.6" fill="#fff" stroke="#000" stroke-width="1.5"/>
<text x="253.3" y="589.9" font-size="16" text-anchor="middle" fill="#000">P</text>
<ellipse cx="228.5" cy="606.2" rx="10.1" ry="10.6" fill="#fff" stroke="#000" stroke-width="1.5"/>
<text x="229.1" y="611.9" font-size="16" text-anchor="middle" fill="#000">P</text>
<ellipse cx="290.2" cy="636.9" rx="10.1" ry="10.6" fill="#fff" stroke="#000" stroke-width="1.5"/>
<text x="290.8" y="642.6" font-size="16" text-anchor="middle" fill="#000">P</text>
<ellipse cx="370.1" cy="553.1" rx="10.1" ry="10.6" fill="#fff" stroke="#000" stroke-width="1.5"/>
<text x="370.7" y="558.8" font-size="16" text-anchor="middle" fill="#000">P</text>
<ellipse cx="425" cy="607.7" rx="10.1" ry="10.6" fill="#fff" stroke="#000" stroke-width="1.5"/>
<text x="425.6" y="613.4" font-size="16" text-anchor="middle" fill="#000">P</text>
<ellipse cx="396" cy="530.9" rx="10.1" ry="10.6" fill="#fff" stroke="#000" stroke-width="1.5"/>
<text x="396.6" y="536.6" font-size="16" text-anchor="middle" fill="#000">P</text>
<ellipse cx="278.3" cy="656.1" rx="10.1" ry="10.6" fill="#fff" stroke="#FF0000" stroke-width="1.5"/>
<text x="278.9" y="661.8" font-size="16" text-anchor="middle" fill="#FF0000">P</text>
<line x1="1090" y1="755.3" x2="1090" y2="635.2" stroke="#000" stroke-width="2.8" stroke-linecap="butt"/>
<line x1="1076" y1="741.3" x2="1720.7" y2="741.3" stroke="#000" stroke-width="2.8" stroke-linecap="butt"/>
<line x1="1076" y1="688.95" x2="1090" y2="688.95" stroke="#000" stroke-width="2.8" stroke-linecap="butt"/>
<line x1="1076" y1="636.6" x2="1090" y2="636.6" stroke="#000" stroke-width="2.8" stroke-linecap="butt"/>
<line x1="1247.33" y1="741.3" x2="1247.33" y2="755.3" stroke="#000" stroke-width="2.8" stroke-linecap="butt"/>
<line x1="1404.65" y1="741.3" x2="1404.65" y2="755.3" stroke="#000" stroke-width="2.8" stroke-linecap="butt"/>
<line x1="1561.97" y1="741.3" x2="1561.97" y2="755.3" stroke="#000" stroke-width="2.8" stroke-linecap="butt"/>
<line x1="1719.3" y1="741.3" x2="1719.3" y2="755.3" stroke="#000" stroke-width="2.8" stroke-linecap="butt"/>
<text x="1063.4" y="751.5" font-size="28.5" text-anchor="end" fill="#000">0</text>
<text x="1063.4" y="699.15" font-size="28.5" text-anchor="end" fill="#000">1000</text>
<text x="1063.4" y="646.8" font-size="28.5" text-anchor="end" fill="#000">2000</text>
<text x="1090" y="792.9" font-size="28.5" text-anchor="middle" fill="#000">0</text>
<text x="1247.33" y="792.9" font-size="28.5" text-anchor="middle" fill="#000">50</text>
<text x="1404.65" y="792.9" font-size="28.5" text-anchor="middle" fill="#000">100</text>
<text x="1561.97" y="792.9" font-size="28.5" text-anchor="middle" fill="#000">150</text>
<text x="1719.3" y="792.9" font-size="28.5" text-anchor="middle" fill="#000">200</text>
<text transform="translate(941.7,672) rotate(-90)" font-size="30" text-anchor="middle">Activity</text>
<text transform="translate(982.6,672) rotate(-90)" font-size="30" text-anchor="middle" textLength="244.6" lengthAdjust="spacingAndGlyphs">(nmol min<tspan font-size="23" dy="-10.5">-1</tspan><tspan dy="10.5"> mg </tspan><tspan font-size="23" dy="-10.5">-1</tspan><tspan dy="10.5">)</tspan></text>
<text x="1742.2" y="835.8" font-size="31.5" text-anchor="end" textLength="251" lengthAdjust="spacingAndGlyphs">[5-PP-InsP<tspan font-size="23" dy="10.5">4</tspan><tspan dy="-10.5">] (μM)</tspan></text>
<polyline points="1090,741.3 1095.24,739.5 1100.49,737.77 1105.73,736.11 1110.98,734.52 1116.22,732.98 1121.46,731.51 1126.71,730.09 1131.95,728.72 1137.2,727.4 1142.44,726.13 1147.69,724.9 1152.93,723.71 1158.17,722.57 1163.42,721.46 1168.66,720.39 1173.91,719.35 1179.15,718.34 1184.39,717.36 1189.64,716.42 1194.88,715.5 1200.13,714.61 1205.37,713.75 1210.62,712.91 1215.86,712.09 1221.1,711.3 1226.35,710.53 1231.59,709.78 1236.84,709.04 1242.08,708.33 1247.33,707.64 1252.57,706.97 1257.81,706.31 1263.06,705.67 1268.3,705.04 1273.55,704.43 1278.79,703.84 1284.03,703.25 1289.28,702.69 1294.52,702.13 1299.77,701.59 1305.01,701.06 1310.25,700.54 1315.5,700.04 1320.74,699.54 1325.99,699.06 1331.23,698.59 1336.48,698.12 1341.72,697.67 1346.96,697.23 1352.21,696.79 1357.45,696.37 1362.7,695.95 1367.94,695.54 1373.18,695.14 1378.43,694.75 1383.67,694.36 1388.92,693.98 1394.16,693.61 1399.41,693.25 1404.65,692.89 1409.89,692.54 1415.14,692.2 1420.38,691.86 1425.63,691.53 1430.87,691.2 1436.12,690.88 1441.36,690.57 1446.6,690.26 1451.85,689.96 1457.09,689.66 1462.34,689.37 1467.58,689.08 1472.82,688.79 1478.07,688.51 1483.31,688.24 1488.56,687.97 1493.8,687.71 1499.05,687.44 1504.29,687.19 1509.53,686.94 1514.78,686.69 1520.02,686.44 1525.27,686.2 1530.51,685.96 1535.75,685.73 1541,685.5 1546.24,685.27 1551.49,685.05 1556.73,684.83 1561.97,684.61 1567.22,684.4 1572.46,684.19 1577.71,683.98 1582.95,683.77 1588.2,683.57 1593.44,683.37 1598.68,683.18 1603.93,682.98 1609.17,682.79 1614.42,682.6 1619.66,682.42 1624.9,682.23 1630.15,682.05 1635.39,681.87 1640.64,681.7 1645.88,681.52 1651.13,681.35 1656.37,681.18 1661.61,681.02 1666.86,680.85 1672.1,680.69 1677.35,680.53 1682.59,680.37 1687.84,680.21 1693.08,680.06 1698.32,679.9 1703.57,679.75 1708.81,679.6 1714.06,679.45 1719.3,679.31" fill="none" stroke="#000" stroke-width="2.6" stroke-linejoin="round"/>
<circle cx="1091" cy="741" r="3.9" fill="none" stroke="#000" stroke-width="1.8"/>
<circle cx="1099.83" cy="741" r="3.9" fill="none" stroke="#000" stroke-width="1.8"/>
<circle cx="1099.83" cy="740.5" r="3.9" fill="none" stroke="#000" stroke-width="1.8"/>
<circle cx="1099.83" cy="741.5" r="3.9" fill="none" stroke="#000" stroke-width="1.8"/>
<circle cx="1109.67" cy="737.5" r="3.9" fill="none" stroke="#000" stroke-width="1.8"/>
<circle cx="1109.67" cy="737" r="3.9" fill="none" stroke="#000" stroke-width="1.8"/>
<circle cx="1109.67" cy="738" r="3.9" fill="none" stroke="#000" stroke-width="1.8"/>
<circle cx="1129.33" cy="732.5" r="3.9" fill="none" stroke="#000" stroke-width="1.8"/>
<circle cx="1129.33" cy="731.5" r="3.9" fill="none" stroke="#000" stroke-width="1.8"/>
<circle cx="1129.33" cy="733" r="3.9" fill="none" stroke="#000" stroke-width="1.8"/>
<circle cx="1168.66" cy="718.5" r="3.9" fill="none" stroke="#000" stroke-width="1.8"/>
<circle cx="1168.66" cy="722.2" r="3.9" fill="none" stroke="#000" stroke-width="1.8"/>
<circle cx="1168.66" cy="722.5" r="3.9" fill="none" stroke="#000" stroke-width="1.8"/>
<circle cx="1247.33" cy="704.6" r="3.9" fill="none" stroke="#000" stroke-width="1.8"/>
<circle cx="1247.33" cy="708" r="3.9" fill="none" stroke="#000" stroke-width="1.8"/>
<circle cx="1247.33" cy="713.2" r="3.9" fill="none" stroke="#000" stroke-width="1.8"/>
<circle cx="1404.65" cy="688.7" r="3.9" fill="none" stroke="#000" stroke-width="1.8"/>
<circle cx="1404.65" cy="693" r="3.9" fill="none" stroke="#000" stroke-width="1.8"/>
<circle cx="1404.65" cy="697.3" r="3.9" fill="none" stroke="#000" stroke-width="1.8"/>
<circle cx="1719.3" cy="672.4" r="3.9" fill="none" stroke="#000" stroke-width="1.8"/>
<circle cx="1719.3" cy="674.6" r="3.9" fill="none" stroke="#000" stroke-width="1.8"/>
<circle cx="1719.3" cy="678.5" r="3.9" fill="none" stroke="#000" stroke-width="1.8"/>
<text x="1101.5" y="733.43" font-size="23" text-anchor="middle" fill="#0070C0">3</text>
<text x="1114.5" y="728.83" font-size="23" text-anchor="middle" fill="#0070C0">3</text>
<text x="1132.2" y="723.73" font-size="23" text-anchor="middle" fill="#0070C0">3</text>
<text x="1171.7" y="713.43" font-size="23" text-anchor="middle" fill="#0070C0">3</text>
<text x="1250.1" y="698.53" font-size="23" text-anchor="middle" fill="#0070C0">3</text>
<text x="1406.3" y="680.63" font-size="23" text-anchor="middle" fill="#0070C0">3</text>
<text x="1720.8" y="663.83" font-size="23" text-anchor="middle" fill="#0070C0">3</text>
<text x="1574.5" y="716.1" font-size="27.5" textLength="137.7" lengthAdjust="spacingAndGlyphs">K<tspan font-size="19" dy="7">m</tspan><tspan dy="-7"> = 78 μM</tspan></text>
<text x="895.5" y="518.7" font-size="40" text-anchor="start" fill="#000" font-weight="bold">d</text>
<line x1="1187" y1="649.8" x2="1212" y2="607.6" stroke="#000" stroke-width="1.45" stroke-linecap="round"/>
<line x1="1212" y1="607.6" x2="1252.7" y2="618.8" stroke="#000" stroke-width="1.45" stroke-linecap="round"/>
<line x1="1252.7" y1="618.8" x2="1307.7" y2="607.5" stroke="#000" stroke-width="1.45" stroke-linecap="round"/>
<line x1="1212" y1="607.6" x2="1164.5" y2="616.1" stroke="#000" stroke-width="1.45" stroke-linecap="round"/>
<line x1="1252.7" y1="618.8" x2="1281.9" y2="585" stroke="#000" stroke-width="1.45" stroke-linecap="round"/>
<line x1="1281.5" y1="649.8" x2="1336.8" y2="639.6" stroke="#000" stroke-width="1.45" stroke-linecap="round"/>
<line x1="1233.3" y1="635.8" x2="1202" y2="668.8" stroke="#000" stroke-width="1.45" stroke-linecap="round"/>
<line x1="1187" y1="649.8" x2="1140.3" y2="638.1" stroke="#000" stroke-width="1.45" stroke-linecap="round"/>
<line x1="1307.7" y1="607.5" x2="1307.7" y2="566" stroke="#000" stroke-width="1.45" stroke-linecap="butt"/>
<polygon points="1307.1,607.13 1278.95,648.22 1284.05,651.38 1308.3,607.87" fill="#000"/>
<polygon points="1282.14,647.59 1233.83,633.98 1232.77,637.62 1280.86,652.01" fill="#000"/>
<polygon points="1232.72,633.89 1186.8,649.13 1187.2,650.47 1233.88,637.71" fill="#000"/>
<circle cx="1233.3" cy="635.8" r="1.9" fill="#000"/>
<circle cx="1281.5" cy="649.8" r="2.2" fill="#000"/>
<ellipse cx="1164.5" cy="616.1" rx="10.1" ry="10.6" fill="#fff" stroke="#000" stroke-width="1.5"/>
<text x="1165.1" y="621.8" font-size="16" text-anchor="middle" fill="#000">P</text>
<ellipse cx="1140.3" cy="638.1" rx="10.1" ry="10.6" fill="#fff" stroke="#000" stroke-width="1.5"/>
<text x="1140.9" y="643.8" font-size="16" text-anchor="middle" fill="#000">P</text>
<ellipse cx="1202" cy="668.8" rx="10.1" ry="10.6" fill="#fff" stroke="#000" stroke-width="1.5"/>
<text x="1202.6" y="674.5" font-size="16" text-anchor="middle" fill="#000">P</text>
<ellipse cx="1281.9" cy="585" rx="10.1" ry="10.6" fill="#fff" stroke="#000" stroke-width="1.5"/>
<text x="1282.5" y="590.7" font-size="16" text-anchor="middle" fill="#000">P</text>
<ellipse cx="1336.8" cy="639.6" rx="10.1" ry="10.6" fill="#fff" stroke="#000" stroke-width="1.5"/>
<text x="1337.4" y="645.3" font-size="16" text-anchor="middle" fill="#000">P</text>
<ellipse cx="1118.1" cy="638.2" rx="10.1" ry="10.6" fill="#fff" stroke="#FF0000" stroke-width="1.5"/>
<text x="1118.7" y="643.9" font-size="16" text-anchor="middle" fill="#FF0000">P</text>
<text x="1313.9" y="562.9" font-size="14.5" text-anchor="middle" fill="#000">OH</text>
<line x1="194.2" y1="1059.2" x2="194.2" y2="938.9" stroke="#000" stroke-width="2.8" stroke-linecap="butt"/>
<line x1="180.2" y1="1045.2" x2="825.3" y2="1045.2" stroke="#000" stroke-width="2.8" stroke-linecap="butt"/>
<line x1="180.2" y1="992.75" x2="194.2" y2="992.75" stroke="#000" stroke-width="2.8" stroke-linecap="butt"/>
<line x1="180.2" y1="940.3" x2="194.2" y2="940.3" stroke="#000" stroke-width="2.8" stroke-linecap="butt"/>
<line x1="351.62" y1="1045.2" x2="351.62" y2="1059.2" stroke="#000" stroke-width="2.8" stroke-linecap="butt"/>
<line x1="509.05" y1="1045.2" x2="509.05" y2="1059.2" stroke="#000" stroke-width="2.8" stroke-linecap="butt"/>
<line x1="666.48" y1="1045.2" x2="666.48" y2="1059.2" stroke="#000" stroke-width="2.8" stroke-linecap="butt"/>
<line x1="823.9" y1="1045.2" x2="823.9" y2="1059.2" stroke="#000" stroke-width="2.8" stroke-linecap="butt"/>
<text x="167.6" y="1055.4" font-size="28.5" text-anchor="end" fill="#000">0</text>
<text x="167.6" y="1002.95" font-size="28.5" text-anchor="end" fill="#000">1000</text>
<text x="167.6" y="950.5" font-size="28.5" text-anchor="end" fill="#000">2000</text>
<text x="194.2" y="1096.8" font-size="28.5" text-anchor="middle" fill="#000">0</text>
<text x="351.62" y="1096.8" font-size="28.5" text-anchor="middle" fill="#000">50</text>
<text x="509.05" y="1096.8" font-size="28.5" text-anchor="middle" fill="#000">100</text>
<text x="666.48" y="1096.8" font-size="28.5" text-anchor="middle" fill="#000">150</text>
<text x="823.9" y="1096.8" font-size="28.5" text-anchor="middle" fill="#000">200</text>
<text transform="translate(49.8,979.3) rotate(-90)" font-size="30" text-anchor="middle">Activity</text>
<text transform="translate(93.3,979.3) rotate(-90)" font-size="30" text-anchor="middle" textLength="244.6" lengthAdjust="spacingAndGlyphs">(nmol min<tspan font-size="23" dy="-10.5">-1</tspan><tspan dy="10.5"> mg </tspan><tspan font-size="23" dy="-10.5">-1</tspan><tspan dy="10.5">)</tspan></text>
<text x="844.3" y="1138.2" font-size="31.5" text-anchor="end" textLength="198.5" lengthAdjust="spacingAndGlyphs">[4-InsP<tspan font-size="23" dy="10.5">7</tspan><tspan dy="-10.5">] (μM)</tspan></text>
<polyline points="194.2,1045.2 199.45,1044.2 204.69,1043.19 209.94,1042.2 215.19,1041.2 220.44,1040.21 225.69,1039.22 230.93,1038.24 236.18,1037.26 241.43,1036.28 246.68,1035.31 251.92,1034.33 257.17,1033.36 262.42,1032.4 267.66,1031.44 272.91,1030.48 278.16,1029.52 283.41,1028.57 288.65,1027.62 293.9,1026.67 299.15,1025.73 304.4,1024.79 309.64,1023.85 314.89,1022.92 320.14,1021.98 325.39,1021.06 330.63,1020.13 335.88,1019.21 341.13,1018.29 346.38,1017.37 351.62,1016.46 356.87,1015.55 362.12,1014.64 367.37,1013.73 372.62,1012.83 377.86,1011.93 383.11,1011.03 388.36,1010.14 393.61,1009.25 398.85,1008.36 404.1,1007.48 409.35,1006.59 414.6,1005.71 419.84,1004.84 425.09,1003.96 430.34,1003.09 435.59,1002.22 440.83,1001.35 446.08,1000.49 451.33,999.63 456.57,998.77 461.82,997.91 467.07,997.06 472.32,996.21 477.56,995.36 482.81,994.52 488.06,993.67 493.31,992.83 498.56,992 503.8,991.16 509.05,990.33 514.3,989.5 519.55,988.67 524.79,987.84 530.04,987.02 535.29,986.2 540.54,985.38 545.78,984.57 551.03,983.76 556.28,982.95 561.53,982.14 566.77,981.33 572.02,980.53 577.27,979.73 582.51,978.93 587.76,978.13 593.01,977.34 598.26,976.55 603.51,975.76 608.75,974.97 614,974.19 619.25,973.41 624.5,972.63 629.74,971.85 634.99,971.07 640.24,970.3 645.49,969.53 650.73,968.76 655.98,968 661.23,967.23 666.48,966.47 671.72,965.71 676.97,964.95 682.22,964.2 687.47,963.45 692.71,962.69 697.96,961.95 703.21,961.2 708.46,960.45 713.7,959.71 718.95,958.97 724.2,958.23 729.44,957.5 734.69,956.76 739.94,956.03 745.19,955.3 750.43,954.58 755.68,953.85 760.93,953.13 766.18,952.4 771.43,951.69 776.67,950.97 781.92,950.25 787.17,949.54 792.41,948.83 797.66,948.12 802.91,947.41 808.16,946.71 813.4,946 818.65,945.3 823.9,944.6" fill="none" stroke="#000" stroke-width="2.6" stroke-linejoin="round"/>
<circle cx="233.56" cy="1036.8" r="3.9" fill="none" stroke="#000" stroke-width="1.8"/>
<circle cx="233.56" cy="1037.1" r="3.9" fill="none" stroke="#000" stroke-width="1.8"/>
<circle cx="233.56" cy="1040.3" r="3.9" fill="none" stroke="#000" stroke-width="1.8"/>
<circle cx="233.56" cy="1040.8" r="3.9" fill="none" stroke="#000" stroke-width="1.8"/>
<circle cx="233.56" cy="1041.5" r="3.9" fill="none" stroke="#000" stroke-width="1.8"/>
<circle cx="233.56" cy="1041.8" r="3.9" fill="none" stroke="#000" stroke-width="1.8"/>
<circle cx="272.91" cy="1029.8" r="3.9" fill="none" stroke="#000" stroke-width="1.8"/>
<circle cx="272.91" cy="1030.1" r="3.9" fill="none" stroke="#000" stroke-width="1.8"/>
<circle cx="272.91" cy="1033.5" r="3.9" fill="none" stroke="#000" stroke-width="1.8"/>
<circle cx="272.91" cy="1037.3" r="3.9" fill="none" stroke="#000" stroke-width="1.8"/>
<circle cx="272.91" cy="1037.6" r="3.9" fill="none" stroke="#000" stroke-width="1.8"/>
<circle cx="272.91" cy="1038" r="3.9" fill="none" stroke="#000" stroke-width="1.8"/>
<circle cx="351.62" cy="1011.2" r="3.9" fill="none" stroke="#000" stroke-width="1.8"/>
<circle cx="351.62" cy="1011.5" r="3.9" fill="none" stroke="#000" stroke-width="1.8"/>
<circle cx="351.62" cy="1016.6" r="3.9" fill="none" stroke="#000" stroke-width="1.8"/>
<circle cx="351.62" cy="1022.4" r="3.9" fill="none" stroke="#000" stroke-width="1.8"/>
<circle cx="351.62" cy="1022.7" r="3.9" fill="none" stroke="#000" stroke-width="1.8"/>
<circle cx="351.62" cy="1016.9" r="3.9" fill="none" stroke="#000" stroke-width="1.8"/>
<circle cx="509.05" cy="970.7" r="3.9" fill="none" stroke="#000" stroke-width="1.8"/>
<circle cx="509.05" cy="972.8" r="3.9" fill="none" stroke="#000" stroke-width="1.8"/>
<circle cx="509.05" cy="990.2" r="3.9" fill="none" stroke="#000" stroke-width="1.8"/>
<circle cx="509.05" cy="996.7" r="3.9" fill="none" stroke="#000" stroke-width="1.8"/>
<circle cx="509.05" cy="1005.4" r="3.9" fill="none" stroke="#000" stroke-width="1.8"/>
<circle cx="509.05" cy="1007.6" r="3.9" fill="none" stroke="#000" stroke-width="1.8"/>
<circle cx="823.9" cy="944.6" r="3.9" fill="none" stroke="#000" stroke-width="1.8"/>
<circle cx="823.9" cy="954.3" r="3.9" fill="none" stroke="#000" stroke-width="1.8"/>
<circle cx="823.9" cy="945.5" r="3.9" fill="none" stroke="#000" stroke-width="1.8"/>
<circle cx="194.2" cy="1045.2" r="3.9" fill="#fff" stroke="#000" stroke-width="1.8"/>
<text x="237.6" y="1028.33" font-size="23" text-anchor="middle" fill="#0070C0">6</text>
<text x="277.4" y="1020.83" font-size="23" text-anchor="middle" fill="#0070C0">6</text>
<text x="353.8" y="1000.03" font-size="23" text-anchor="middle" fill="#0070C0">6</text>
<text x="510.9" y="960.43" font-size="23" text-anchor="middle" fill="#0070C0">6</text>
<text x="817.8" y="933.93" font-size="23" text-anchor="middle" fill="#0070C0">3</text>
<text x="1" y="879.5" font-size="40" text-anchor="start" fill="#000" font-weight="bold">e</text>
<line x1="285.1" y1="944" x2="310.1" y2="901.8" stroke="#000" stroke-width="1.45" stroke-linecap="round"/>
<line x1="310.1" y1="901.8" x2="350.8" y2="913" stroke="#000" stroke-width="1.45" stroke-linecap="round"/>
<line x1="350.8" y1="913" x2="405.8" y2="901.7" stroke="#000" stroke-width="1.45" stroke-linecap="round"/>
<line x1="310.1" y1="901.8" x2="262.6" y2="910.3" stroke="#000" stroke-width="1.45" stroke-linecap="round"/>
<line x1="350.8" y1="913" x2="380" y2="879.2" stroke="#000" stroke-width="1.45" stroke-linecap="round"/>
<line x1="379.6" y1="944" x2="434.9" y2="933.8" stroke="#000" stroke-width="1.45" stroke-linecap="round"/>
<line x1="331.4" y1="930" x2="300.1" y2="963" stroke="#000" stroke-width="1.45" stroke-linecap="round"/>
<line x1="285.1" y1="944" x2="238.4" y2="932.3" stroke="#000" stroke-width="1.45" stroke-linecap="round"/>
<line x1="405.8" y1="901.7" x2="405.9" y2="857" stroke="#000" stroke-width="1.45" stroke-linecap="round"/>
<polygon points="405.2,901.33 377.05,942.42 382.15,945.58 406.4,902.07" fill="#000"/>
<polygon points="380.24,941.79 331.93,928.18 330.87,931.82 378.96,946.21" fill="#000"/>
<polygon points="330.82,928.09 284.9,943.33 285.3,944.67 331.98,931.91" fill="#000"/>
<circle cx="331.4" cy="930" r="1.9" fill="#000"/>
<circle cx="379.6" cy="944" r="2.2" fill="#000"/>
<ellipse cx="262.6" cy="910.3" rx="10.1" ry="10.6" fill="#fff" stroke="#000" stroke-width="1.5"/>
<text x="263.2" y="916" font-size="16" text-anchor="middle" fill="#000">P</text>
<ellipse cx="238.4" cy="932.3" rx="10.1" ry="10.6" fill="#fff" stroke="#000" stroke-width="1.5"/>
<text x="239" y="938" font-size="16" text-anchor="middle" fill="#000">P</text>
<ellipse cx="300.1" cy="963" rx="10.1" ry="10.6" fill="#fff" stroke="#000" stroke-width="1.5"/>
<text x="300.7" y="968.7" font-size="16" text-anchor="middle" fill="#000">P</text>
<ellipse cx="380" cy="879.2" rx="10.1" ry="10.6" fill="#fff" stroke="#000" stroke-width="1.5"/>
<text x="380.6" y="884.9" font-size="16" text-anchor="middle" fill="#000">P</text>
<ellipse cx="434.9" cy="933.8" rx="10.1" ry="10.6" fill="#fff" stroke="#000" stroke-width="1.5"/>
<text x="435.5" y="939.5" font-size="16" text-anchor="middle" fill="#000">P</text>
<ellipse cx="405.9" cy="857" rx="10.1" ry="10.6" fill="#fff" stroke="#000" stroke-width="1.5"/>
<text x="406.5" y="862.7" font-size="16" text-anchor="middle" fill="#000">P</text>
<ellipse cx="243" cy="903.1" rx="10.1" ry="10.6" fill="#fff" stroke="#FF0000" stroke-width="1.5"/>
<text x="243.6" y="908.8" font-size="16" text-anchor="middle" fill="#FF0000">P</text>
<line x1="1098.8" y1="1105" x2="1098.8" y2="986" stroke="#000" stroke-width="2.8" stroke-linecap="butt"/>
<line x1="1098.8" y1="973.5" x2="1098.8" y2="875.4" stroke="#000" stroke-width="2.8" stroke-linecap="butt"/>
<line x1="1084.8" y1="1105" x2="1728" y2="1105" stroke="#000" stroke-width="2.8" stroke-linecap="butt"/>
<line x1="1084.8" y1="1056.5" x2="1098.8" y2="1056.5" stroke="#000" stroke-width="2.8" stroke-linecap="butt"/>
<line x1="1084.8" y1="1008" x2="1098.8" y2="1008" stroke="#000" stroke-width="2.8" stroke-linecap="butt"/>
<line x1="1084.8" y1="962.8" x2="1098.8" y2="962.8" stroke="#000" stroke-width="2.8" stroke-linecap="butt"/>
<line x1="1084.8" y1="920.1" x2="1098.8" y2="920.1" stroke="#000" stroke-width="2.8" stroke-linecap="butt"/>
<line x1="1084.8" y1="876.8" x2="1098.8" y2="876.8" stroke="#000" stroke-width="2.8" stroke-linecap="butt"/>
<text x="1071.5" y="1115.2" font-size="28.5" text-anchor="end" fill="#000">0</text>
<text x="1071.5" y="1066.7" font-size="28.5" text-anchor="end" fill="#000">5</text>
<text x="1071.5" y="1018.2" font-size="28.5" text-anchor="end" fill="#000">10</text>
<text x="1071.5" y="973" font-size="28.5" text-anchor="end" fill="#000">20</text>
<text x="1071.5" y="930.3" font-size="28.5" text-anchor="end" fill="#000">40</text>
<text x="1071.5" y="887" font-size="28.5" text-anchor="end" fill="#000">60</text>
<line x1="1085.6" y1="988.8" x2="1111.7" y2="963.1" stroke="#000" stroke-width="2.6" stroke-linecap="butt"/>
<line x1="1085.6" y1="1001.3" x2="1111.7" y2="975.6" stroke="#000" stroke-width="2.6" stroke-linecap="butt"/>
<text transform="translate(969.8,985.8) rotate(-90)" font-size="30" text-anchor="middle">Activity</text>
<text transform="translate(1015,985.8) rotate(-90)" font-size="30" text-anchor="middle" textLength="244.6" lengthAdjust="spacingAndGlyphs">(nmol min<tspan font-size="23" dy="-10.5">-1</tspan><tspan dy="10.5"> mg </tspan><tspan font-size="23" dy="-10.5">-1</tspan><tspan dy="10.5">)</tspan></text>
<rect x="1124.7" y="1057.8" width="73.4" height="47.2" fill="#fff" stroke="#000" stroke-width="2.6"/>
<rect x="1250.5" y="1098.7" width="73.9" height="6.3" fill="#fff" stroke="#000" stroke-width="2.6"/>
<rect x="1376.4" y="989.9" width="73.4" height="115.1" fill="#fff" stroke="#000" stroke-width="2.6"/>
<rect x="1376.4" y="947.2" width="73.4" height="27.3" fill="#fff" stroke="#000" stroke-width="2.6"/>
<rect x="1502.4" y="1083.7" width="73.3" height="21.3" fill="#fff" stroke="#000" stroke-width="2.6"/>
<rect x="1628.3" y="1092.2" width="72.9" height="12.8" fill="#fff" stroke="#000" stroke-width="2.6"/>
<line x1="1084.8" y1="1105" x2="1728" y2="1105" stroke="#000" stroke-width="2.8" stroke-linecap="butt"/>
<circle cx="1161.4" cy="999.7" r="5.2" fill="#fff" stroke="#000" stroke-width="1.6"/>
<circle cx="1161.4" cy="1053.6" r="5.2" fill="#fff" stroke="#000" stroke-width="1.6"/>
<circle cx="1161.4" cy="1069.9" r="5.2" fill="#fff" stroke="#000" stroke-width="1.6"/>
<circle cx="1161.4" cy="1079.8" r="5.2" fill="#fff" stroke="#000" stroke-width="1.6"/>
<circle cx="1161.4" cy="1080.1" r="5.2" fill="#fff" stroke="#000" stroke-width="1.6"/>
<circle cx="1287.2" cy="1049.6" r="5.2" fill="#fff" stroke="#000" stroke-width="1.6"/>
<circle cx="1287.2" cy="1100.6" r="5.2" fill="#fff" stroke="#000" stroke-width="1.6"/>
<circle cx="1287.2" cy="1105.2" r="5.2" fill="#fff" stroke="#000" stroke-width="1.6"/>
<circle cx="1287.2" cy="1103" r="5.2" fill="#fff" stroke="#000" stroke-width="1.6"/>
<circle cx="1287.2" cy="1102" r="5.2" fill="#fff" stroke="#000" stroke-width="1.6"/>
<circle cx="1413.2" cy="894.3" r="5.2" fill="#fff" stroke="#000" stroke-width="1.6"/>
<circle cx="1413.2" cy="930.7" r="5.2" fill="#fff" stroke="#000" stroke-width="1.6"/>
<circle cx="1413.2" cy="937.4" r="5.2" fill="#fff" stroke="#000" stroke-width="1.6"/>
<circle cx="1413.2" cy="942.4" r="5.2" fill="#fff" stroke="#000" stroke-width="1.6"/>
<circle cx="1413.2" cy="949.6" r="5.2" fill="#fff" stroke="#000" stroke-width="1.6"/>
<circle cx="1413.2" cy="958" r="5.2" fill="#fff" stroke="#000" stroke-width="1.6"/>
<circle cx="1413.2" cy="962.4" r="5.2" fill="#fff" stroke="#000" stroke-width="1.6"/>
<circle cx="1413.2" cy="965.8" r="5.2" fill="#fff" stroke="#000" stroke-width="1.6"/>
<circle cx="1413.2" cy="968" r="5.2" fill="#fff" stroke="#000" stroke-width="1.6"/>
<circle cx="1413.2" cy="969.1" r="5.2" fill="#fff" stroke="#000" stroke-width="1.6"/>
<circle cx="1413.2" cy="969.3" r="5.2" fill="#fff" stroke="#000" stroke-width="1.6"/>
<circle cx="1413.2" cy="969.5" r="5.2" fill="#fff" stroke="#000" stroke-width="1.6"/>
<circle cx="1413.2" cy="943" r="5.2" fill="#fff" stroke="#000" stroke-width="1.6"/>
<circle cx="1539" cy="1070.5" r="5.2" fill="#fff" stroke="#000" stroke-width="1.6"/>
<circle cx="1539" cy="1077.5" r="5.2" fill="#fff" stroke="#000" stroke-width="1.6"/>
<circle cx="1539" cy="1089.1" r="5.2" fill="#fff" stroke="#000" stroke-width="1.6"/>
<circle cx="1539" cy="1091.3" r="5.2" fill="#fff" stroke="#000" stroke-width="1.6"/>
<circle cx="1664.9" cy="1085.4" r="5.2" fill="#fff" stroke="#000" stroke-width="1.6"/>
<circle cx="1664.9" cy="1094.3" r="5.2" fill="#fff" stroke="#000" stroke-width="1.6"/>
<circle cx="1664.9" cy="1094" r="5.2" fill="#fff" stroke="#000" stroke-width="1.6"/>
<circle cx="1664.9" cy="1093" r="5.2" fill="#fff" stroke="#000" stroke-width="1.6"/>
<text x="1128.9" y="1051.33" font-size="23" text-anchor="middle" fill="#0070C0">5</text>
<text x="1255.1" y="1089.33" font-size="23" text-anchor="middle" fill="#0070C0">5</text>
<text x="1386.2" y="938.13" font-size="23" text-anchor="middle" fill="#0070C0">13</text>
<text x="1506" y="1076.53" font-size="23" text-anchor="middle" fill="#0070C0">4</text>
<text x="1630.5" y="1084.63" font-size="23" text-anchor="middle" fill="#0070C0">4</text>
<text x="906.5" y="888" font-size="40" text-anchor="start" fill="#000" font-weight="bold">f</text>
<text transform="translate(1175.1,1123.6) rotate(-57.5)" font-size="30" text-anchor="end">Phenyl-P</text>
<text transform="translate(1303.6,1127.5) rotate(-57.5)" font-size="30" text-anchor="end">InsP<tspan font-size="23" dy="8" dx="1.5">6</tspan></text>
<text transform="translate(1421.4,1127) rotate(-57.5)" font-size="30" text-anchor="end">1-InsP<tspan font-size="23" dy="8" dx="0">7</tspan></text>
<text transform="translate(1548.6,1123.1) rotate(-57.5)" font-size="30" text-anchor="end">2-InsP<tspan font-size="23" dy="8" dx="0">7</tspan></text>
<text transform="translate(1671,1125) rotate(-57.5)" font-size="30" text-anchor="end">3-InsP<tspan font-size="23" dy="8" dx="0">7</tspan></text>
<text x="326" y="1277" font-size="40" text-anchor="start" fill="#000" font-weight="bold">g</text>
<line x1="391.3" y1="1352.6" x2="416.3" y2="1310.4" stroke="#000" stroke-width="1.45" stroke-linecap="round"/>
<line x1="416.3" y1="1310.4" x2="457" y2="1321.6" stroke="#000" stroke-width="1.45" stroke-linecap="round"/>
<line x1="457" y1="1321.6" x2="512" y2="1310.3" stroke="#000" stroke-width="1.45" stroke-linecap="round"/>
<line x1="416.3" y1="1310.4" x2="368.8" y2="1318.9" stroke="#000" stroke-width="1.45" stroke-linecap="round"/>
<line x1="457" y1="1321.6" x2="486.2" y2="1287.8" stroke="#000" stroke-width="1.45" stroke-linecap="round"/>
<line x1="485.8" y1="1352.6" x2="541.1" y2="1342.4" stroke="#000" stroke-width="1.45" stroke-linecap="round"/>
<line x1="437.6" y1="1338.6" x2="406.3" y2="1371.6" stroke="#000" stroke-width="1.45" stroke-linecap="round"/>
<line x1="391.3" y1="1352.6" x2="344.6" y2="1340.9" stroke="#000" stroke-width="1.45" stroke-linecap="round"/>
<line x1="512" y1="1310.3" x2="512.1" y2="1265.6" stroke="#000" stroke-width="1.45" stroke-linecap="round"/>
<polygon points="511.4,1309.93 483.25,1351.02 488.35,1354.18 512.6,1310.67" fill="#000"/>
<polygon points="486.44,1350.39 438.13,1336.78 437.07,1340.42 485.16,1354.81" fill="#000"/>
<polygon points="437.02,1336.69 391.1,1351.93 391.5,1353.27 438.18,1340.51" fill="#000"/>
<circle cx="437.6" cy="1338.6" r="1.9" fill="#000"/>
<circle cx="485.8" cy="1352.6" r="2.2" fill="#000"/>
<ellipse cx="368.8" cy="1318.9" rx="10.1" ry="10.6" fill="#fff" stroke="#000" stroke-width="1.5"/>
<text x="369.4" y="1324.6" font-size="16" text-anchor="middle" fill="#000">P</text>
<ellipse cx="344.6" cy="1340.9" rx="10.1" ry="10.6" fill="#fff" stroke="#000" stroke-width="1.5"/>
<text x="345.2" y="1346.6" font-size="16" text-anchor="middle" fill="#000">P</text>
<ellipse cx="406.3" cy="1371.6" rx="10.1" ry="10.6" fill="#fff" stroke="#000" stroke-width="1.5"/>
<text x="406.9" y="1377.3" font-size="16" text-anchor="middle" fill="#000">P</text>
<ellipse cx="486.2" cy="1287.8" rx="10.1" ry="10.6" fill="#fff" stroke="#000" stroke-width="1.5"/>
<text x="486.8" y="1293.5" font-size="16" text-anchor="middle" fill="#000">P</text>
<ellipse cx="541.1" cy="1342.4" rx="10.1" ry="10.6" fill="#fff" stroke="#000" stroke-width="1.5"/>
<text x="541.7" y="1348.1" font-size="16" text-anchor="middle" fill="#000">P</text>
<ellipse cx="512.1" cy="1265.6" rx="10.1" ry="10.6" fill="#fff" stroke="#000" stroke-width="1.5"/>
<text x="512.7" y="1271.3" font-size="16" text-anchor="middle" fill="#000">P</text>
<ellipse cx="562.7" cy="1342.3" rx="10.1" ry="10.6" fill="#fff" stroke="#FF0000" stroke-width="1.5"/>
<text x="563.3" y="1348" font-size="16" text-anchor="middle" fill="#FF0000">P</text>
<text x="642" y="1278" font-size="40" text-anchor="start" fill="#000" font-weight="bold">h</text>
<line x1="680.1" y1="1364.2" x2="705.1" y2="1322" stroke="#000" stroke-width="1.45" stroke-linecap="round"/>
<line x1="705.1" y1="1322" x2="745.8" y2="1333.2" stroke="#000" stroke-width="1.45" stroke-linecap="round"/>
<line x1="745.8" y1="1333.2" x2="800.8" y2="1321.9" stroke="#000" stroke-width="1.45" stroke-linecap="round"/>
<line x1="705.1" y1="1322" x2="657.6" y2="1330.5" stroke="#000" stroke-width="1.45" stroke-linecap="round"/>
<line x1="745.8" y1="1333.2" x2="775" y2="1299.4" stroke="#000" stroke-width="1.45" stroke-linecap="round"/>
<line x1="774.6" y1="1364.2" x2="829.9" y2="1354" stroke="#000" stroke-width="1.45" stroke-linecap="round"/>
<line x1="726.4" y1="1350.2" x2="695.1" y2="1383.2" stroke="#000" stroke-width="1.45" stroke-linecap="round"/>
<line x1="680.1" y1="1364.2" x2="633.4" y2="1352.5" stroke="#000" stroke-width="1.45" stroke-linecap="round"/>
<line x1="800.8" y1="1321.9" x2="800.9" y2="1277.2" stroke="#000" stroke-width="1.45" stroke-linecap="round"/>
<polygon points="800.2,1321.53 772.05,1362.62 777.15,1365.78 801.4,1322.27" fill="#000"/>
<polygon points="775.24,1361.99 726.93,1348.38 725.87,1352.02 773.96,1366.41" fill="#000"/>
<polygon points="725.82,1348.29 679.9,1363.53 680.3,1364.87 726.98,1352.11" fill="#000"/>
<circle cx="726.4" cy="1350.2" r="1.9" fill="#000"/>
<circle cx="774.6" cy="1364.2" r="2.2" fill="#000"/>
<ellipse cx="657.6" cy="1330.5" rx="10.1" ry="10.6" fill="#fff" stroke="#000" stroke-width="1.5"/>
<text x="658.2" y="1336.2" font-size="16" text-anchor="middle" fill="#000">P</text>
<ellipse cx="633.4" cy="1352.5" rx="10.1" ry="10.6" fill="#fff" stroke="#000" stroke-width="1.5"/>
<text x="634" y="1358.2" font-size="16" text-anchor="middle" fill="#000">P</text>
<ellipse cx="695.1" cy="1383.2" rx="10.1" ry="10.6" fill="#fff" stroke="#000" stroke-width="1.5"/>
<text x="695.7" y="1388.9" font-size="16" text-anchor="middle" fill="#000">P</text>
<ellipse cx="775" cy="1299.4" rx="10.1" ry="10.6" fill="#fff" stroke="#000" stroke-width="1.5"/>
<text x="775.6" y="1305.1" font-size="16" text-anchor="middle" fill="#000">P</text>
<ellipse cx="829.9" cy="1354" rx="10.1" ry="10.6" fill="#fff" stroke="#000" stroke-width="1.5"/>
<text x="830.5" y="1359.7" font-size="16" text-anchor="middle" fill="#000">P</text>
<ellipse cx="800.9" cy="1277.2" rx="10.1" ry="10.6" fill="#fff" stroke="#000" stroke-width="1.5"/>
<text x="801.5" y="1282.9" font-size="16" text-anchor="middle" fill="#000">P</text>
<ellipse cx="800.9" cy="1252.7" rx="10.1" ry="10.6" fill="#fff" stroke="#FF0000" stroke-width="1.5"/>
<text x="801.5" y="1258.4" font-size="16" text-anchor="middle" fill="#FF0000">P</text>
<text x="887" y="1277.7" font-size="40" text-anchor="start" fill="#000" font-weight="bold">i</text>
<line x1="942.9" y1="1352.2" x2="967.9" y2="1310" stroke="#000" stroke-width="1.45" stroke-linecap="round"/>
<line x1="967.9" y1="1310" x2="1008.6" y2="1321.2" stroke="#000" stroke-width="1.45" stroke-linecap="round"/>
<line x1="1008.6" y1="1321.2" x2="1063.6" y2="1309.9" stroke="#000" stroke-width="1.45" stroke-linecap="round"/>
<line x1="967.9" y1="1310" x2="920.4" y2="1318.5" stroke="#000" stroke-width="1.45" stroke-linecap="round"/>
<line x1="1008.6" y1="1321.2" x2="1037.8" y2="1287.4" stroke="#000" stroke-width="1.45" stroke-linecap="round"/>
<line x1="1037.4" y1="1352.2" x2="1092.7" y2="1342" stroke="#000" stroke-width="1.45" stroke-linecap="round"/>
<line x1="989.2" y1="1338.2" x2="957.9" y2="1371.2" stroke="#000" stroke-width="1.45" stroke-linecap="round"/>
<line x1="942.9" y1="1352.2" x2="896.2" y2="1340.5" stroke="#000" stroke-width="1.45" stroke-linecap="round"/>
<line x1="1063.6" y1="1309.9" x2="1063.7" y2="1265.2" stroke="#000" stroke-width="1.45" stroke-linecap="round"/>
<polygon points="1063,1309.53 1034.85,1350.62 1039.95,1353.78 1064.2,1310.27" fill="#000"/>
<polygon points="1038.04,1349.99 989.73,1336.38 988.67,1340.02 1036.76,1354.41" fill="#000"/>
<polygon points="988.62,1336.29 942.7,1351.53 943.1,1352.87 989.78,1340.11" fill="#000"/>
<circle cx="989.2" cy="1338.2" r="1.9" fill="#000"/>
<circle cx="1037.4" cy="1352.2" r="2.2" fill="#000"/>
<ellipse cx="920.4" cy="1318.5" rx="10.1" ry="10.6" fill="#fff" stroke="#000" stroke-width="1.5"/>
<text x="921" y="1324.2" font-size="16" text-anchor="middle" fill="#000">P</text>
<ellipse cx="896.2" cy="1340.5" rx="10.1" ry="10.6" fill="#fff" stroke="#000" stroke-width="1.5"/>
<text x="896.8" y="1346.2" font-size="16" text-anchor="middle" fill="#000">P</text>
<ellipse cx="957.9" cy="1371.2" rx="10.1" ry="10.6" fill="#fff" stroke="#000" stroke-width="1.5"/>
<text x="958.5" y="1376.9" font-size="16" text-anchor="middle" fill="#000">P</text>
<ellipse cx="1037.8" cy="1287.4" rx="10.1" ry="10.6" fill="#fff" stroke="#000" stroke-width="1.5"/>
<text x="1038.4" y="1293.1" font-size="16" text-anchor="middle" fill="#000">P</text>
<ellipse cx="1092.7" cy="1342" rx="10.1" ry="10.6" fill="#fff" stroke="#000" stroke-width="1.5"/>
<text x="1093.3" y="1347.7" font-size="16" text-anchor="middle" fill="#000">P</text>
<ellipse cx="1063.7" cy="1265.2" rx="10.1" ry="10.6" fill="#fff" stroke="#000" stroke-width="1.5"/>
<text x="1064.3" y="1270.9" font-size="16" text-anchor="middle" fill="#000">P</text>
<ellipse cx="1038.7" cy="1263.6" rx="10.1" ry="10.6" fill="#fff" stroke="#FF0000" stroke-width="1.5"/>
<text x="1039.3" y="1269.3" font-size="16" text-anchor="middle" fill="#FF0000">P</text>
<text x="1196.5" y="1277.7" font-size="40" text-anchor="start" fill="#000" font-weight="bold">j</text>
<line x1="1252.9" y1="1355.3" x2="1277.9" y2="1313.1" stroke="#000" stroke-width="1.45" stroke-linecap="round"/>
<line x1="1277.9" y1="1313.1" x2="1318.6" y2="1324.3" stroke="#000" stroke-width="1.45" stroke-linecap="round"/>
<line x1="1318.6" y1="1324.3" x2="1373.6" y2="1313" stroke="#000" stroke-width="1.45" stroke-linecap="round"/>
<line x1="1277.9" y1="1313.1" x2="1230.4" y2="1321.6" stroke="#000" stroke-width="1.45" stroke-linecap="round"/>
<line x1="1318.6" y1="1324.3" x2="1347.8" y2="1290.5" stroke="#000" stroke-width="1.45" stroke-linecap="round"/>
<line x1="1347.4" y1="1355.3" x2="1402.7" y2="1345.1" stroke="#000" stroke-width="1.45" stroke-linecap="round"/>
<line x1="1299.2" y1="1341.3" x2="1267.9" y2="1374.3" stroke="#000" stroke-width="1.45" stroke-linecap="round"/>
<line x1="1252.9" y1="1355.3" x2="1206.2" y2="1343.6" stroke="#000" stroke-width="1.45" stroke-linecap="round"/>
<line x1="1373.6" y1="1313" x2="1373.7" y2="1268.3" stroke="#000" stroke-width="1.45" stroke-linecap="round"/>
<polygon points="1373,1312.63 1344.85,1353.72 1349.95,1356.88 1374.2,1313.37" fill="#000"/>
<polygon points="1348.04,1353.09 1299.73,1339.48 1298.67,1343.12 1346.76,1357.51" fill="#000"/>
<polygon points="1298.62,1339.39 1252.7,1354.63 1253.1,1355.97 1299.78,1343.21" fill="#000"/>
<circle cx="1299.2" cy="1341.3" r="1.9" fill="#000"/>
<circle cx="1347.4" cy="1355.3" r="2.2" fill="#000"/>
<ellipse cx="1230.4" cy="1321.6" rx="10.1" ry="10.6" fill="#fff" stroke="#000" stroke-width="1.5"/>
<text x="1231" y="1327.3" font-size="16" text-anchor="middle" fill="#000">P</text>
<ellipse cx="1206.2" cy="1343.6" rx="10.1" ry="10.6" fill="#fff" stroke="#000" stroke-width="1.5"/>
<text x="1206.8" y="1349.3" font-size="16" text-anchor="middle" fill="#000">P</text>
<ellipse cx="1267.9" cy="1374.3" rx="10.1" ry="10.6" fill="#fff" stroke="#000" stroke-width="1.5"/>
<text x="1268.5" y="1380" font-size="16" text-anchor="middle" fill="#000">P</text>
<ellipse cx="1347.8" cy="1290.5" rx="10.1" ry="10.6" fill="#fff" stroke="#000" stroke-width="1.5"/>
<text x="1348.4" y="1296.2" font-size="16" text-anchor="middle" fill="#000">P</text>
<ellipse cx="1402.7" cy="1345.1" rx="10.1" ry="10.6" fill="#fff" stroke="#000" stroke-width="1.5"/>
<text x="1403.3" y="1350.8" font-size="16" text-anchor="middle" fill="#000">P</text>
<ellipse cx="1373.7" cy="1268.3" rx="10.1" ry="10.6" fill="#fff" stroke="#000" stroke-width="1.5"/>
<text x="1374.3" y="1274" font-size="16" text-anchor="middle" fill="#000">P</text>
<text x="1282.5" y="1306.88" font-size="19.5" text-anchor="middle" fill="#000">4</text>
<text x="1320.6" y="1317.18" font-size="19.5" text-anchor="middle" fill="#000">3</text>
<text x="1387.1" y="1319.38" font-size="19.5" text-anchor="middle" fill="#000">2</text>
<text x="1355.1" y="1377.38" font-size="19.5" text-anchor="middle" fill="#000">1</text>
<text x="1308.9" y="1363.88" font-size="19.5" text-anchor="middle" fill="#000">6</text>
<text x="1248.7" y="1373.68" font-size="19.5" text-anchor="middle" fill="#000">5</text>
<text x="451" y="1427.5" font-size="29.5" text-anchor="middle">1-InsP<tspan font-size="22" dy="8.5">7</tspan></text>
<text x="749.3" y="1427.5" font-size="29.5" text-anchor="middle">2-InsP<tspan font-size="22" dy="8.5">7</tspan></text>
<text x="1005.3" y="1427.5" font-size="29.5" text-anchor="middle">3-InsP<tspan font-size="22" dy="8.5">7</tspan></text>
<text x="1315.8" y="1427.5" font-size="29.5" text-anchor="middle">InsP<tspan font-size="22" dy="8.5">6</tspan></text>
</g></svg>
</body></html>
